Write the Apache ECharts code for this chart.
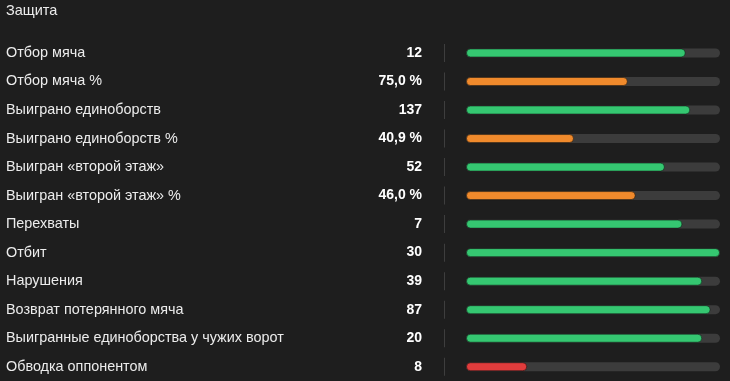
<!DOCTYPE html>
<html>
<head>
<meta charset="utf-8">
<script src="https://cdn.jsdelivr.net/npm/echarts@6/dist/echarts.min.js"></script>
<style>
html,body{margin:0;padding:0;background:#1e1e1e;}
#c{width:730px;height:381px;}
</style>
</head>
<body>
<div id="c"></div>
<script>
var categories = [
  'Отбор мяча',
  'Отбор мяча %',
  'Выиграно единоборств',
  'Выиграно единоборств %',
  'Выигран «второй этаж»',
  'Выигран «второй этаж» %',
  'Перехваты',
  'Отбит',
  'Нарушения',
  'Возврат потерянного мяча',
  'Выигранные единоборства у чужих ворот',
  'Обводка оппонентом'
];
var valueLabels = ['12', '75,0 %', '137', '40,9 %', '52', '46,0 %', '7', '30', '39', '87', '20', '8'];
var barShare = [86.5, 63.7, 88.3, 42.5, 78.3, 66.8, 85.2, 100, 93, 96.3, 93, 24.1];
var barKind = ['g', 'o', 'g', 'o', 'g', 'o', 'g', 'g', 'g', 'g', 'g', 'r'];

var kindColor = { g: '#35c771', o: '#f08a2c', r: '#e03c3c' };

var chart = echarts.init(document.getElementById('c'));
var gridTop = 38.7, gridH = 344.4;

chart.setOption({
  backgroundColor: '#1e1e1e',
  animation: false,
  title: {
    text: 'Защита', left: 6, top: 3, padding: 0,
    textStyle: { color: '#ececec', fontSize: 14.5, fontWeight: 'normal', fontFamily: 'Liberation Sans' }
  },
  grid: [
    { left: 466, right: 10, top: gridTop, height: gridH },
    { left: 444, width: 1, top: gridTop, height: gridH }
  ],
  xAxis: [
    { gridIndex: 0, type: 'value', min: 0, max: 100, show: false },
    { gridIndex: 1, type: 'value', min: 0, max: 1, show: false }
  ],
  yAxis: [
    {
      gridIndex: 0, type: 'category', data: categories, inverse: true,
      axisLine: { show: false }, axisTick: { show: false }, splitLine: { show: false },
      axisLabel: {
        align: 'left', margin: 460,
        formatter: function (v, i) {
          return '{n|' + v + '}{v|' + valueLabels[i] + '}';
        },
        rich: {
          n: { width: 340, align: 'left', color: '#ececec', fontSize: 14.4, fontFamily: 'Liberation Sans' },
          v: { width: 76, align: 'right', color: '#ffffff', fontSize: 14, fontWeight: 'bold', fontFamily: 'Liberation Sans' }
        }
      }
    },
    {
      gridIndex: 1, type: 'category', data: categories, inverse: true, show: false
    }
  ],
  series: [
    {
      type: 'bar', xAxisIndex: 0, yAxisIndex: 0, barWidth: 9,
      data: barShare.map(function (v, i) {
        return { value: v, itemStyle: { color: kindColor[barKind[i]] } };
      }),
      itemStyle: { borderRadius: 4.5, borderColor: 'rgba(0,0,0,0.45)', borderWidth: 1 },
      showBackground: true,
      backgroundStyle: { color: '#3c3c3c', borderRadius: 4.5 }
    },
    {
      type: 'bar', xAxisIndex: 1, yAxisIndex: 1, barWidth: 18, silent: true,
      data: categories.map(function () { return 1; }),
      itemStyle: { color: '#3e3e3e' }
    }
  ]
});
</script>
</body>
</html>
